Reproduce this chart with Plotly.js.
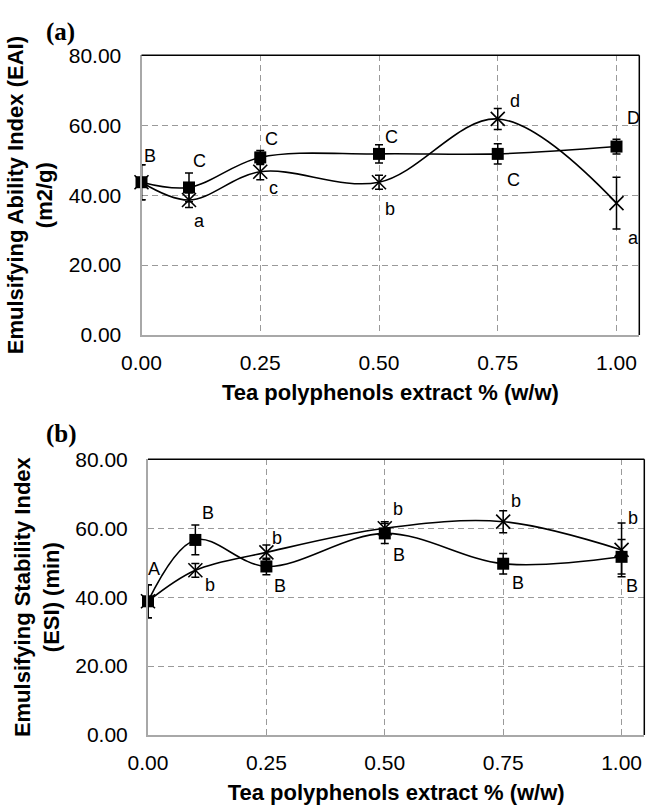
<!DOCTYPE html>
<html>
<head>
<meta charset="utf-8">
<script src="https://cdn.plot.ly/plotly-3.0.1.min.js"></script>
<style>html,body{margin:0;padding:0;background:#fff;}#chart{width:648px;height:810px;}</style>
</head>
<body>
<div id="chart"></div>
<script>
// ---------- data ----------
const concentration = [0, 0.1, 0.25, 0.5, 0.75, 1.0];
const xTickVals = [0, 0.25, 0.5, 0.75, 1.0];
const xTickText = ['0.00', '0.25', '0.50', '0.75', '1.00'];
const yTickVals = [0, 20, 40, 60, 80];
const yTickText = ['0.00', '20.00', '40.00', '60.00', '80.00'];

// (a) Emulsifying Ability Index (m2/g)
const eaiSquare = [43.7, 42.2, 50.8, 51.8, 51.8, 53.9];
const eaiSquareErr = [5.0, 4.1, 2.0, 2.6, 2.9, 2.1];
const eaiCross = [43.7, 38.6, 46.7, 43.7, 61.8, 37.7];
const eaiCrossErr = [5.0, 2.1, 2.3, 2.0, 3.0, 7.4];
const eaiSquareLetters = ['B', 'C', 'C', 'C', 'C', 'D'];
const eaiCrossLetters = ['', 'a', 'c', 'b', 'd', 'a'];

// (b) Emulsifying Stability Index (min)
const esiSquare = [38.8, 56.6, 48.9, 58.5, 49.7, 51.7];
const esiSquareErr = [4.8, 4.3, 2.4, 2.9, 3.0, 5.0];
const esiCross = [38.8, 47.8, 53.0, 60.0, 61.9, 53.7];
const esiCrossErr = [4.8, 2.0, 2.1, 1.9, 3.2, 7.8];
const esiSquareLetters = ['A', 'B', 'B', 'B', 'B', 'B'];
const esiCrossLetters = ['', 'b', 'b', 'b', 'b', 'b'];

// ---------- styling (label offsets in px relative to their points) ----------
const offEaiSq = [[8, -26], [10, -26], [11, -18], [12, -17], [16, 26], [17, -29]];
const offEaiCr = [[0, 0], [10, 21], [13, 16], [11, 27], [17, -18], [17, 35]];
const offEsiSq = [[6, -32], [13, -27], [14, 20], [14, 22], [15, 19], [10, 29]];
const offEsiCr = [[0, 0], [15, 15], [11, -14], [13, -19], [13, -21], [11, -32]];

const FONT = 'Liberation Sans, Arial, sans-serif';

function lineTrace(y, err, sym, xa, ya, size, name) {
  const sq = sym === 'square';
  return {
    type: 'scatter', mode: 'lines+markers', name: name,
    x: concentration, y: y, xaxis: xa, yaxis: ya,
    line: {color: '#000', width: 1.6, shape: 'spline', smoothing: 1},
    marker: sq ? {symbol: 'square', size: size, color: '#000'}
               : {symbol: 'x-thin-open', size: size, color: '#000', line: {color: '#000', width: 1.6}},
    error_y: {type: 'data', array: err, visible: true, color: '#000', thickness: 1.5, width: 4},
    cliponaxis: false, showlegend: false, hoverinfo: 'x+y'
  };
}

const data = [
  lineTrace(eaiCross, eaiCrossErr, 'x', 'x', 'y', 14, 'EAI ×'),
  lineTrace(eaiSquare, eaiSquareErr, 'square', 'x', 'y', 12, 'EAI ■'),
  lineTrace(esiCross, esiCrossErr, 'x', 'x2', 'y2', 14, 'ESI ×'),
  lineTrace(esiSquare, esiSquareErr, 'square', 'x2', 'y2', 12, 'ESI ■')
];

const annotations = [];
function addLetters(letters, yv, offs, xr, yr) {
  letters.forEach((t, i) => {
    if (!t) return;
    annotations.push({x: concentration[i], y: yv[i], xref: xr, yref: yr, text: t, showarrow: false,
      xshift: offs[i][0], yshift: -offs[i][1], font: {family: FONT, size: 18, color: '#000'}});
  });
}
addLetters(eaiSquareLetters, eaiSquare, offEaiSq, 'x', 'y');
addLetters(eaiCrossLetters, eaiCross, offEaiCr, 'x', 'y');
addLetters(esiSquareLetters, esiSquare, offEsiSq, 'x2', 'y2');
addLetters(esiCrossLetters, esiCross, offEsiCr, 'x2', 'y2');

annotations.push({xref: 'paper', yref: 'paper', x: 44 / 648, y: 1 - 16 / 810, text: '<b>(a)</b>', showarrow: false,
  font: {family: 'Liberation Serif, Times New Roman, serif', size: 25, color: '#000'}});
annotations.push({xref: 'paper', yref: 'paper', x: 44 / 648, y: 1 - 434 / 810, text: '<b>(b)</b>', showarrow: false,
  font: {family: 'Liberation Serif, Times New Roman, serif', size: 25, color: '#000'}});

function xAxis(domain, anchor) {
  return {
    domain: domain, anchor: anchor, range: [0, 1.048],
    tickvals: xTickVals, ticktext: xTickText, ticks: '', ticklabelstandoff: 8,
    tickfont: {family: FONT, size: 21, color: '#000'},
    showgrid: true, gridcolor: '#9a9a9a', gridwidth: 1, griddash: '6px,4px',
    showline: true, linecolor: '#a8a8a8', linewidth: 2, zeroline: false,
    title: {text: '<b>Tea polyphenols extract % (w/w)</b>', font: {family: FONT, size: 22, color: '#000'}, standoff: 11}
  };
}
function yAxis(domain, anchor, title) {
  return {
    domain: domain, anchor: anchor, range: [0, 80],
    tickvals: yTickVals, ticktext: yTickText, ticks: '', ticklabelstandoff: 14,
    tickfont: {family: FONT, size: 21, color: '#000'},
    showgrid: true, gridcolor: '#9a9a9a', gridwidth: 1, griddash: '6px,4px',
    showline: true, linecolor: '#a8a8a8', linewidth: 2, zeroline: false,
    title: {text: title, font: {family: FONT, size: 22, color: '#000'}, standoff: 10}
  };
}

function frame(xr, yr) {
  return [
    {type: 'line', xref: xr + ' domain', yref: yr + ' domain', x0: 0, x1: 1, y0: 1, y1: 1, line: {color: '#000', width: 1.5}},
    {type: 'line', xref: xr + ' domain', yref: yr + ' domain', x0: 1, x1: 1, y0: 0, y1: 1, line: {color: '#000', width: 1.5}}
  ];
}

const layout = {
  width: 648, height: 810,
  margin: {l: 0, r: 0, t: 0, b: 0},
  paper_bgcolor: '#fff', plot_bgcolor: '#fff',
  showlegend: false,
  xaxis: xAxis([141.5 / 648, 639.3 / 648], 'y'),
  yaxis: yAxis([1 - 335 / 810, 1 - 55.3 / 810], 'x', '<b>Emulsifying Ability Index (EAI)<br>(m2/g)</b>'),
  xaxis2: xAxis([148 / 648, 644.3 / 648], 'y2'),
  yaxis2: yAxis([1 - 735 / 810, 1 - 459.3 / 810], 'x2', '<b>Emulsifying Stability Index<br>(ESI) (min)</b>'),
  annotations: annotations,
  shapes: frame('x', 'y').concat(frame('x2', 'y2'))
};

Plotly.newPlot('chart', data, layout, {staticPlot: true, displayModeBar: false});
</script>
</body>
</html>
